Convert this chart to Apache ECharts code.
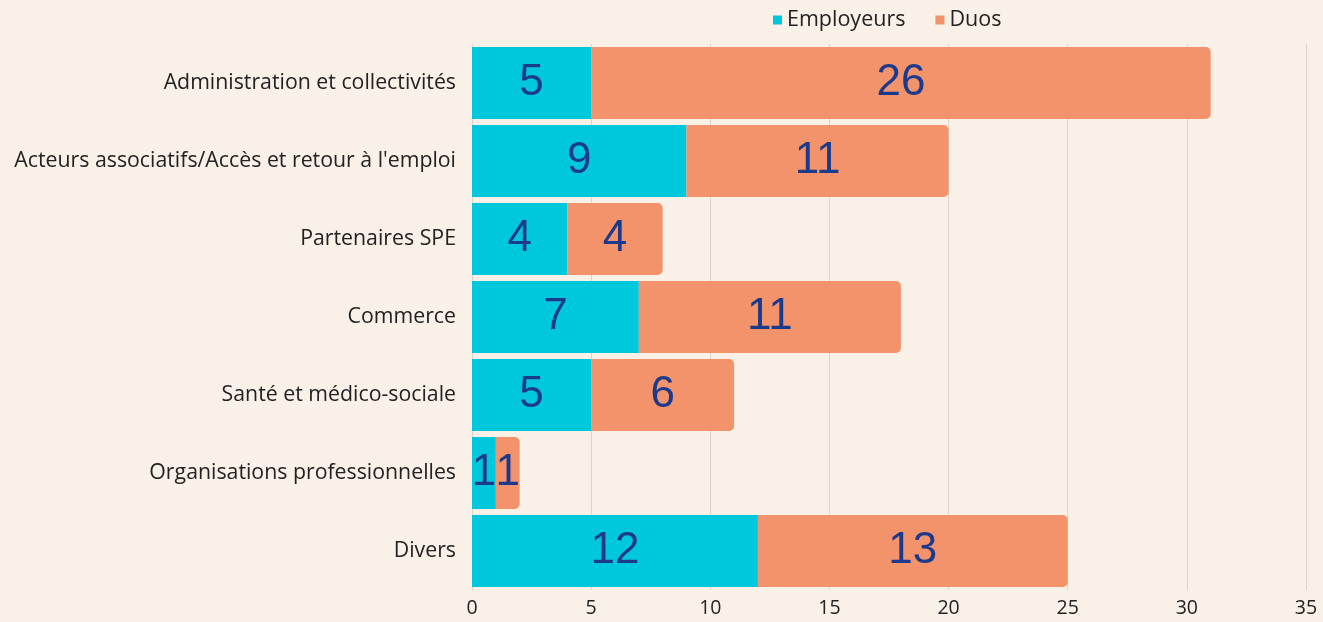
<!DOCTYPE html>
<html>
<head>
<meta charset="utf-8">
<script src="https://cdn.jsdelivr.net/npm/echarts@6/dist/echarts.min.js"></script>
<style>
  html, body { margin: 0; padding: 0; background: #f9f0e7; }
  #chart { width: 1323px; height: 622px; }
</style>
</head>
<body>
<div id="chart"></div>
<script>
// data, top to bottom as drawn
const categories = [
   "Administration et collectivités",
   "Acteurs associatifs/Accès et retour à l'emploi",
   "Partenaires SPE",
   "Commerce",
   "Santé et médico-sociale",
   "Organisations professionnelles",
   "Divers"
];
const employeurs = [5, 9, 4, 7, 5, 1, 12];
const duos = [26, 11, 4, 11, 6, 1, 13];
const xTicks = [0, 5, 10, 15, 20, 25, 30, 35];

const chart = echarts.init(document.getElementById('chart'));

const labelStyle =
{
   show: true,
   position: 'inside',
   color: '#1c3a8c',
   fontFamily: 'Liberation Sans',
   fontSize: 44
};

chart.setOption(
{
   animation: false,
   backgroundColor: '#f9f0e7',
   textStyle: { fontFamily: 'Open Sans' },
   legend:
   {
      top: 4,
      left: 768,
      itemWidth: 9,
      itemHeight: 9,
      itemGap: 30,
      icon: 'rect',
      textStyle: { fontSize: 21.5, color: '#222', fontFamily: 'Open Sans' },
      data: ['Employeurs', 'Duos']
   },
   grid: { left: 472, right: 17, top: 44, bottom: 32, containLabel: false },
   xAxis:
   {
      type: 'value',
      min: xTicks[0],
      max: xTicks[xTicks.length - 1],
      interval: 5,
      axisLine: { show: false },
      axisTick: { show: false },
      splitLine: { lineStyle: { color: '#dcd4cc', width: 1 } },
      axisLabel: { fontSize: 19.5, color: '#222', margin: 8, fontFamily: 'Open Sans' }
   },
   yAxis:
   {
      type: 'category',
      inverse: true,
      data: categories,
      axisLine: { show: true, lineStyle: { color: '#dcd4cc' } },
      axisTick: { show: false },
      axisLabel: { fontSize: 21.3, color: '#222', margin: 16, fontFamily: 'Open Sans' }
   },
   series:
   [
      {
         name: 'Employeurs',
         type: 'bar',
         stack: 'total',
         barWidth: '92%',
         itemStyle: { color: '#00c8dc' },
         label: labelStyle,
         data: employeurs
      },
      {
         name: 'Duos',
         type: 'bar',
         stack: 'total',
         barWidth: '92%',
         itemStyle: { color: '#f2936b', borderRadius: [0, 5, 5, 0] },
         label: labelStyle,
         data: duos
      }
   ]
});
</script>
</body>
</html>
